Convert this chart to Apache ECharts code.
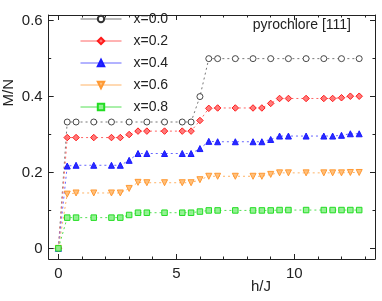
<!DOCTYPE html>
<html>
<head>
<meta charset="utf-8">
<script src="https://cdn.jsdelivr.net/npm/echarts@6/dist/echarts.min.js"></script>
<style>
html,body{margin:0;padding:0;background:#fff;}
#c{width:382px;height:301px;}
</style>
</head>
<body>
<div id="c"></div>
<script>
// ---- data ----
var seriesNames = ['x=0.0', 'x=0.2', 'x=0.4', 'x=0.6', 'x=0.8'];

var hBlack = [0, 0.375, 0.75, 1.5, 2.25, 3, 3.75, 4.5, 5.25, 5.625, 6, 6.375, 6.75, 7.5, 8.25, 9, 9.75, 10.5, 11.25, 12, 12.75];
var mBlack = [0, 0.333, 0.333, 0.333, 0.333, 0.333, 0.333, 0.333, 0.333, 0.333, 0.400, 0.500, 0.500, 0.500, 0.500, 0.500, 0.500, 0.500, 0.500, 0.500, 0.500];

var hOther = [0, 0.375, 0.75, 1.5, 2.25, 2.625, 3, 3.375, 3.75, 4.5, 5.25, 5.625, 6, 6.375, 6.75, 7.5, 8.25, 8.625, 9, 9.375, 9.75, 10.5, 11.25, 11.625, 12, 12.375, 12.75];
var mRed    = [0, 0.292, 0.292, 0.292, 0.292, 0.292, 0.300, 0.309, 0.309, 0.309, 0.309, 0.309, 0.337, 0.369, 0.370, 0.370, 0.370, 0.370, 0.382, 0.395, 0.395, 0.395, 0.395, 0.395, 0.397, 0.401, 0.401];
var mBlue   = [0, 0.217, 0.219, 0.219, 0.219, 0.219, 0.232, 0.250, 0.250, 0.250, 0.250, 0.250, 0.263, 0.282, 0.281, 0.281, 0.281, 0.281, 0.287, 0.296, 0.296, 0.296, 0.296, 0.296, 0.298, 0.302, 0.302];
var mOrange = [0, 0.143, 0.146, 0.146, 0.146, 0.146, 0.158, 0.174, 0.173, 0.173, 0.173, 0.173, 0.181, 0.190, 0.190, 0.190, 0.190, 0.190, 0.195, 0.199, 0.199, 0.199, 0.199, 0.199, 0.199, 0.200, 0.200];
var mGreen  = [0, 0.081, 0.081, 0.081, 0.081, 0.081, 0.088, 0.094, 0.094, 0.094, 0.094, 0.094, 0.097, 0.100, 0.100, 0.100, 0.100, 0.100, 0.100, 0.101, 0.101, 0.101, 0.101, 0.101, 0.101, 0.101, 0.101];

var xMajorTicks = [0, 5, 10];
var xMinorTicks = [1, 2, 3, 4, 6, 7, 8, 9, 11, 12, 13];
var yMajorTicks = [0, 0.2, 0.4, 0.6];
var yMinorTicks = [0.1, 0.3, 0.5];

var titleText = 'pyrochlore [111]';
var xName = 'h/J';
var yName = 'M/N';

// ---- chart ----
function pairs(xs, ys) { return xs.map(function (x, i) { return [x, ys[i]]; }); }

var FONT = 'Liberation Sans, Arial, sans-serif';
var AX = '#222';
var xMin = -0.41, xMax = 13.42, yMin = -0.028, yMax = 0.615;

function xAx(pos, ticks, len, showLine, labels) {
  return {
    type: 'value', position: pos, min: xMin, max: xMax,
    axisLine: { show: showLine, onZero: false, lineStyle: { color: AX, width: 1 } },
    axisTick: { show: true, inside: true, length: len, customValues: ticks, lineStyle: { color: AX, width: 1 } },
    axisLabel: labels ? { show: true, customValues: ticks, fontSize: 15, color: AX, fontFamily: FONT, margin: 7 } : { show: false },
    splitLine: { show: false }
  };
}
function yAx(pos, ticks, len, showLine, labels) {
  return {
    type: 'value', position: pos, min: yMin, max: yMax,
    axisLine: { show: showLine, onZero: false, lineStyle: { color: AX, width: 1 } },
    axisTick: { show: true, inside: true, length: len, customValues: ticks, lineStyle: { color: AX, width: 1 } },
    axisLabel: labels ? { show: true, customValues: ticks, fontSize: 15, color: AX, fontFamily: FONT, margin: 6,
      formatter: function (v) { return v === 0 ? '0' : v.toFixed(1); } } : { show: false },
    splitLine: { show: false }
  };
}

function mkSeries(name, xs, ys, color, lineColor, symbol, size, fill, rot, bw) {
  return {
    name: name, type: 'line', xAxisIndex: 0, yAxisIndex: 0,
    data: pairs(xs, ys),
    symbol: symbol, symbolSize: size, symbolRotate: rot || 0,
    showAllSymbol: true,
    itemStyle: { color: fill, borderColor: color, borderWidth: bw || 1 },
    lineStyle: { color: lineColor, width: 1, type: [2, 3] },
    animation: false, z: 2
  };
}

var chart = echarts.init(document.getElementById('c'), null, { renderer: 'canvas' });
chart.setOption({
  animation: false,
  backgroundColor: '#fff',
  grid: { left: 48.7, right: 7, top: 15, bottom: 42, containLabel: false },
  xAxis: [
    xAx('bottom', xMajorTicks, 5, true, true),
    xAx('bottom', xMinorTicks, 2.5, false, false),
    xAx('top', xMajorTicks, 5, true, false),
    xAx('top', xMinorTicks, 2.5, false, false)
  ],
  yAxis: [
    yAx('left', yMajorTicks, 5, true, true),
    yAx('left', yMinorTicks, 2.5, false, false),
    yAx('right', yMajorTicks, 5, true, false),
    yAx('right', yMinorTicks, 2.5, false, false)
  ],
  legend: {
    orient: 'vertical', left: 80, top: 12, padding: 0,
    itemWidth: 41, itemHeight: 8, itemGap: 8,
    data: seriesNames,
    textStyle: { fontSize: 14, color: AX, fontFamily: FONT, padding: [0, 0, 0, 7] },
    lineStyle: { type: 'solid', width: 1 }
  },
  graphic: [
    { type: 'text', right: 31, top: 18, style: { text: titleText, fontSize: 14, fill: AX, fontFamily: FONT } },
    { type: 'text', left: 251, top: 279, style: { text: xName, fontSize: 15, fill: AX, fontFamily: FONT } },
    { type: 'text', left: 1, top: 79, rotation: Math.PI / 2, style: { text: yName, fontSize: 15, fill: AX, fontFamily: FONT } }
  ],
  series: [
    mkSeries(seriesNames[0], hBlack, mBlack, '#333', '#777', 'circle', 6, '#fff', 0, 0.9),
    mkSeries(seriesNames[1], hOther, mRed, '#ff1a1a', '#ff6666', 'diamond', 6.5, 'rgba(255,110,110,0.9)'),
    mkSeries(seriesNames[2], hOther, mBlue, '#1a1aff', '#6666ff', 'triangle', 6, '#2a2aff'),
    mkSeries(seriesNames[3], hOther, mOrange, '#ff9933', '#ffb366', 'triangle', 6, 'rgba(255,185,110,0.9)', 180),
    mkSeries(seriesNames[4], hOther, mGreen, '#22dd22', '#55e055', 'rect', 5.5, 'rgba(140,240,140,0.9)')
  ]
});
</script>
</body>
</html>
